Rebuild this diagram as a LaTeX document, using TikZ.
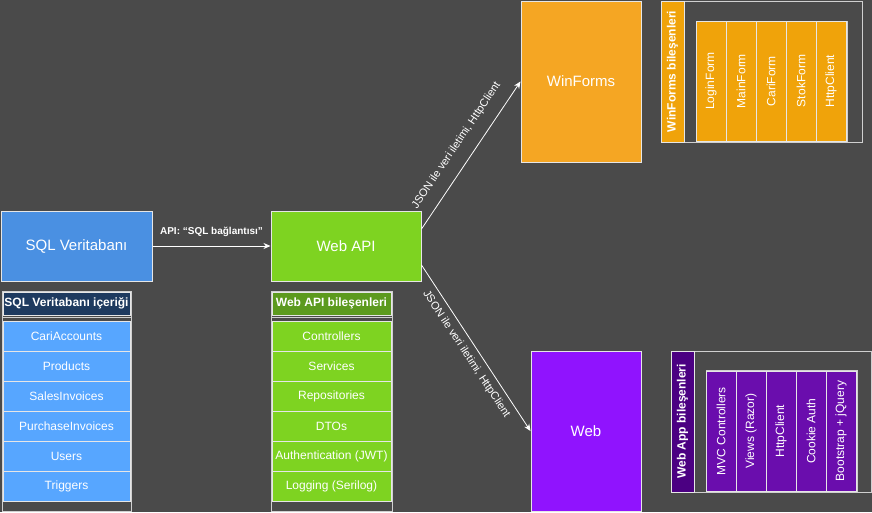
\documentclass[tikz,border=0pt]{standalone}
\usepackage{fontspec}
\setmainfont{Liberation Sans}
\usetikzlibrary{arrows.meta}
\definecolor{bgc}{HTML}{4A4A4A}
\definecolor{sqlblue}{HTML}{4A90E2}
\definecolor{apigreen}{HTML}{7ED321}
\definecolor{wforange}{HTML}{F5A623}
\definecolor{webpurple}{HTML}{9013FE}
\definecolor{sqlhdr}{HTML}{1E3A5F}
\definecolor{sqlitem}{HTML}{57A6FF}
\definecolor{apihdr}{HTML}{5C9A1E}
\definecolor{wfitem}{HTML}{F0A30A}
\definecolor{webhdr}{HTML}{4B0082}
\definecolor{webitem}{HTML}{6A0DAD}
\definecolor{bordc}{HTML}{E6E6E6}
\definecolor{framec}{HTML}{D0D0D0}
\tikzset{
  bigbox/.style={draw=bordc, line width=1pt, text=white, inner sep=0pt, font=\fontsize{15}{18}\selectfont},
  hdrbox/.style={draw=bordc, line width=1pt, text=white, inner sep=0pt, font=\bfseries\fontsize{12}{14}\selectfont},
  itembox/.style={draw=bordc, line width=1pt, text=white, inner sep=0pt, font=\fontsize{12}{14}\selectfont},
  framebox/.style={draw=framec, line width=1pt},
  arr/.style={draw=white, line width=0.8pt, -{Stealth[length=7pt,width=6pt]}},
  lbl/.style={text=white, inner sep=0pt, font=\fontsize{11}{13}\selectfont},
  lblb/.style={text=white, inner sep=0pt, font=\bfseries\fontsize{10}{12}\selectfont}
}
\begin{document}
\begin{tikzpicture}[x=1pt,y=-1pt]
\fill[bgc] (0,0) rectangle (872,512);
\useasboundingbox (0,0) rectangle (872,512);

% main boxes
\node[bigbox, fill=sqlblue, minimum width=151pt, minimum height=70pt] (sql) at (76.5,246) {SQL Veritabanı};
\node[bigbox, fill=apigreen, minimum width=150pt, minimum height=70pt] (api) at (346,246) {Web API};
\node[bigbox, fill=wforange, minimum width=120pt, minimum height=161pt] (wf) at (581,81.5) {WinForms};
\node[bigbox, fill=webpurple, minimum width=110pt, minimum height=160pt] (web) at (586,431) {Web};

% SQL list
\draw[framebox] (2,291) rectangle (131,511);
\draw[framebox] (2,317) -- (131,317);
\node[hdrbox, fill=sqlhdr, minimum width=127pt, minimum height=23pt] (sqlh) at (66.5,303.5) {SQL Veritabanı içeriği};
\foreach \t [count=\i] in {CariAccounts,Products,SalesInvoices,PurchaseInvoices,Users,Triggers}
  \node[itembox, fill=sqlitem, minimum width=127pt, minimum height=30pt] (s\i) at (66.5,306+30*\i) {\t};

% Web API list
\draw[framebox] (271,291) rectangle (392,511);
\draw[framebox] (271,317) -- (392,317);
\node[hdrbox, fill=apihdr, minimum width=119pt, minimum height=23pt] (apih) at (331.5,303.5) {Web API bileşenleri};
\foreach \t [count=\i] in {Controllers,Services,Repositories,DTOs,Authentication (JWT),Logging (Serilog)}
  \node[itembox, fill=apigreen, minimum width=119pt, minimum height=30pt] (a\i) at (331.5,306+30*\i) {\t};

% WinForms components
\draw[framebox] (661,1) rectangle (862,142);
\draw[framebox] (696,21) rectangle (847,142);
\node[hdrbox, fill=wfitem, rotate=90, minimum width=141pt, minimum height=23pt] (wfh) at (672.5,71.5) {WinForms bileşenleri};
\foreach \t [count=\i] in {LoginForm,MainForm,CariForm,StokForm,HttpClient}
  \node[itembox, fill=wfitem, rotate=90, minimum width=120pt, minimum height=30pt] (w\i) at (681+30*\i,81) {\t};

% Web App components
\draw[framebox] (671,351) rectangle (871.5,492);
\draw[framebox] (706,370) rectangle (857,492);
\node[hdrbox, fill=webhdr, rotate=90, minimum width=141pt, minimum height=23pt] (webh) at (682.5,421.5) {Web App bileşenleri};
\foreach \t [count=\i] in {MVC Controllers,Views (Razor),HttpClient,Cookie Auth,Bootstrap + jQuery}
  \node[itembox, fill=webitem, rotate=90, minimum width=120pt, minimum height=30pt] (p\i) at (691+30*\i,431) {\t};

% connectors
\draw[arr] (sql.east) -- (api.west) node[lblb, midway, above=9pt] (l0) {API: “SQL bağlantısı”};
\draw[arr] ([yshift=17pt]api.east) -- (wf.west) node[lbl, midway, sloped, above=12pt] (l1) {JSON ile veri iletimi, HttpClient};
\draw[arr] ([yshift=-19pt]api.east) -- (web.west) node[lbl, midway, sloped, below=6pt] (l2) {JSON ile veri iletimi, HttpClient};
\end{tikzpicture}
\end{document}
